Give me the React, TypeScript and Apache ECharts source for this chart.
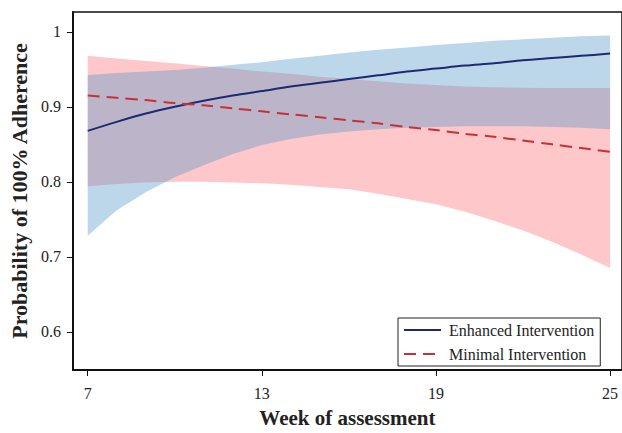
import React, { useEffect, useRef } from "react";
import * as echarts from "echarts";

const weeks = [7, 8, 9, 10, 11, 12, 13, 14, 15, 16, 17, 18, 19, 20, 21, 22, 23, 24, 25];
const enhancedMean = [0.868, 0.88, 0.891, 0.9, 0.908, 0.915, 0.921, 0.927, 0.932, 0.937, 0.942, 0.947, 0.951, 0.955, 0.958, 0.962, 0.965, 0.968, 0.971];
const enhancedUpper = [0.9425, 0.945, 0.947, 0.949, 0.952, 0.956, 0.9595, 0.964, 0.968, 0.9725, 0.976, 0.979, 0.9825, 0.985, 0.988, 0.99, 0.992, 0.994, 0.995];
const enhancedLower = [0.728, 0.762, 0.786, 0.806, 0.822, 0.837, 0.849, 0.857, 0.863, 0.867, 0.87, 0.872, 0.873, 0.874, 0.874, 0.874, 0.873, 0.872, 0.87];
const minimalMean = [0.915, 0.912, 0.909, 0.905, 0.902, 0.898, 0.894, 0.89, 0.886, 0.882, 0.878, 0.873, 0.869, 0.864, 0.86, 0.855, 0.85, 0.845, 0.84];
const minimalUpper = [0.968, 0.9645, 0.961, 0.958, 0.9545, 0.951, 0.947, 0.944, 0.94, 0.937, 0.934, 0.931, 0.929, 0.927, 0.926, 0.9255, 0.925, 0.925, 0.925];
const minimalLower = [0.794, 0.797, 0.799, 0.8, 0.8, 0.799, 0.798, 0.796, 0.793, 0.79, 0.784, 0.777, 0.77, 0.76, 0.748, 0.735, 0.72, 0.703, 0.685];
const xTicks = [7, 13, 19, 25];
const yTicks = [0.6, 0.7, 0.8, 0.9, 1];

const FONT = "Liberation Serif, Times New Roman, serif";

function bandSeries(name: string, lower: number[], upper: number[], fill: string) {
  return {
    name,
    type: "custom",
    silent: true,
    data: weeks.map((w, i) => [w, lower[i], upper[i]]),
    encode: { x: 0, y: [1, 2] },
    renderItem: (params: any, api: any) => {
      if (params.dataIndex !== 0) return null;
      const top = weeks.map((w, i) => api.coord([w, upper[i]]));
      const bottom = weeks.map((w, i) => api.coord([w, lower[i]])).reverse();
      return {
        type: "polygon",
        shape: { points: top.concat(bottom) },
        style: { fill },
      };
    },
  };
}

export default function App() {
  const ref = useRef<HTMLDivElement>(null);
  useEffect(() => {
    if (!ref.current) return;
    const chart = echarts.init(ref.current, null, { renderer: "svg" });
    const pairs = (arr: number[]) => weeks.map((w, i) => [w, arr[i]]);
    chart.setOption({
      animation: false,
      backgroundColor: "#fff",
      grid: {
        left: 68,
        top: 12,
        right: -2,
        bottom: 56,
        show: true,
        borderColor: "#111",
        borderWidth: 1.5,
      },
      legend: {
        data: ["Enhanced Intervention", "Minimal Intervention"],
        orient: "vertical",
        left: 398,
        top: 318,
        itemWidth: 37,
        itemHeight: 14,
        itemGap: 8,
        padding: [4, 6, 4, 5],
        borderColor: "#222",
        borderWidth: 1,
        backgroundColor: "#fff",
        itemStyle: { opacity: 0 },
        textStyle: { fontFamily: FONT, fontSize: 16, color: "#222", padding: [0, 0, 0, 3] },
      },
      xAxis: {
        type: "value",
        min: 6.49,
        max: 25.41,
        name: "Week of assessment",
        nameLocation: "middle",
        nameGap: 37,
        nameTextStyle: { fontFamily: FONT, fontSize: 21, fontWeight: "bold", color: "#222" },
        axisLine: { show: true, lineStyle: { color: "#111", width: 2 } },
        axisTick: { show: true, length: 6, lineStyle: { color: "#111", width: 1 }, customValues: xTicks },
        axisLabel: { fontFamily: FONT, fontSize: 16, color: "#222", margin: 15, customValues: xTicks },
        splitLine: { show: false },
      },
      yAxis: {
        type: "value",
        min: 0.549,
        max: 1.0265,
        name: "Probability of 100% Adherence",
        nameLocation: "middle",
        nameGap: 37,
        nameTextStyle: { fontFamily: FONT, fontSize: 22, fontWeight: "bold", color: "#222" },
        axisLine: { show: true, lineStyle: { color: "#111", width: 2 } },
        axisTick: { show: true, length: 6, lineStyle: { color: "#111", width: 1 }, customValues: yTicks },
        axisLabel: {
          fontFamily: FONT,
          fontSize: 16,
          color: "#222",
          margin: 12,
          customValues: yTicks,
          formatter: (v: number) => (Math.abs(v - 1) < 1e-9 ? "1" : v.toFixed(1)),
        },
        splitLine: { show: false },
      },
      series: [
        bandSeries("minBand", minimalLower, minimalUpper, "#fec8ca"),
        bandSeries("enhBand", enhancedLower, enhancedUpper, "rgba(81,150,200,0.38)"),
        {
          name: "Enhanced Intervention",
          type: "line",
          data: pairs(enhancedMean),
          symbol: "none",
          smooth: 0.3,
          lineStyle: { color: "#1d2a72", width: 2 },
          itemStyle: { color: "#1d2a72" },
        },
        {
          name: "Minimal Intervention",
          type: "line",
          data: pairs(minimalMean),
          symbol: "none",
          smooth: 0.3,
          lineStyle: { color: "#c83038", width: 2, type: [12, 7] },
          itemStyle: { color: "#c83038" },
        },
      ],
    });
    return () => chart.dispose();
  }, []);
  return (
    <div
      ref={ref}
      style={{ position: "absolute", left: 0, top: 0, width: 622, height: 433 }}
    />
  );
}
